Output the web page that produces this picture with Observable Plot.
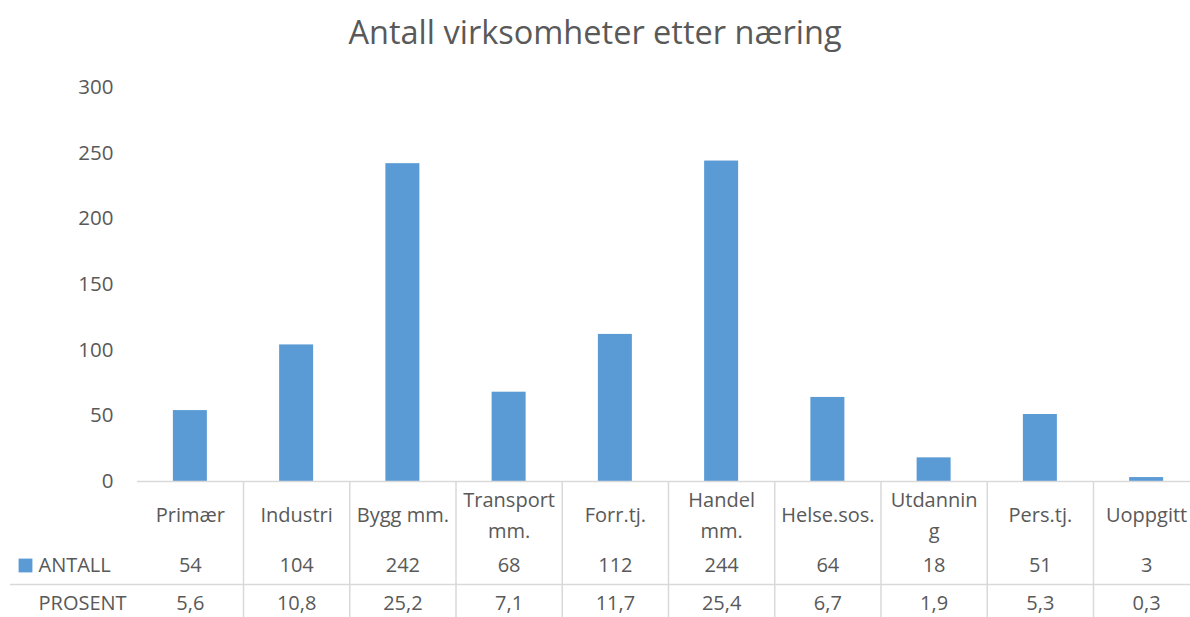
<!DOCTYPE html>
<html>
<head>
<meta charset="utf-8">
<script src="https://cdn.jsdelivr.net/npm/d3@7"></script>
<script src="https://cdn.jsdelivr.net/npm/@observablehq/plot@0.6"></script>
<style>
  html, body { margin: 0; padding: 0; background: #fff; }
  #title { height: 60px; width: 1190px; text-align: center; font-family: "Open Sans", sans-serif; font-size: 32.5px; color: #595959; line-height: 60px; box-sizing: border-box; padding-top: 2px; }
  #chart svg { display: block; }
</style>
</head>
<body>
<div id="title">Antall virksomheter etter næring</div>
<div id="chart"></div>
<script>
const categories = ["Primær","Industri","Bygg mm.","Transport mm.","Forr.tj.","Handel mm.","Helse.sos.","Utdanning","Pers.tj.","Uoppgitt"];
const categoryLabels = ["Primær","Industri","Bygg mm.","Transport\nmm.","Forr.tj.","Handel\nmm.","Helse.sos.","Utdannin\ng","Pers.tj.","Uoppgitt"];
const antall = [54,104,242,68,112,244,64,18,51,3];
const prosent = ["5,6","10,8","25,2","7,1","11,7","25,4","6,7","1,9","5,3","0,3"];
const yTicks = [0,50,100,150,200,250,300];

const rows = categories.map((c, i) => ({cat: c, label: categoryLabels[i], antall: antall[i], prosent: prosent[i]}));

const W = 1190, H = 557;
const x0 = 136.75, x1 = 1199.25;
const step = (x1 - x0) / categories.length;
const barColor = "#5b9bd5";
const grid = "#d9d9d9";
const textColor = "#595959";
const fs = 20;

const chart = Plot.plot({
  width: W,
  height: H,
  marginLeft: 137,
  marginRight: 0,
  marginTop: 27,
  marginBottom: 0,
  style: {fontFamily: "'Open Sans', sans-serif", fontSize: fs + "px", color: textColor, background: "#fff"},
  x: {domain: categories, range: [x0, x1], padding: 0, round: false, axis: null},
  y: {domain: [0, 300], range: [421, 27], ticks: yTicks},
  marks: [
    Plot.axisY({ticks: yTicks, tickSize: 0, tickPadding: 24, fontSize: 20.5, fill: textColor, label: null}),
    Plot.barY(rows, {x: "cat", y: "antall", fill: barColor, insetLeft: (step - 34) / 2, insetRight: (step - 34) / 2}),
    // table grid
    Plot.ruleY([0], {stroke: grid, strokeWidth: 1.5}),
    Plot.ruleY([0], {stroke: grid, strokeWidth: 1.5, dy: 103, insetLeft: -127}),
    Plot.ruleX(categories.slice(1), {x: d => d, dx: -step / 2, stroke: grid, strokeWidth: 1.5, insetTop: 394}),
    // category labels
    Plot.text(rows, {x: "cat", y: 0, text: "label", dy: 31, lineAnchor: "middle", lineHeight: 1.56, fill: textColor, fontSize: fs}),
    // ANTALL row
    Plot.text(rows, {x: "cat", y: 0, text: "antall", dy: 84, fill: textColor, fontSize: fs}),
    // PROSENT row
    Plot.text(rows, {x: "cat", y: 0, text: "prosent", dy: 122, fill: textColor, fontSize: fs}),
    // row headers
    Plot.dot([0], {y: 0, frameAnchor: "left", dx: -112, dy: 84, symbol: "square", r: 7.8, fill: barColor, stroke: null}),
    Plot.text(["ANTALL"], {y: 0, text: d => d, frameAnchor: "left", textAnchor: "start", dx: -99, dy: 84, fill: textColor, fontSize: fs}),
    Plot.text(["PROSENT"], {y: 0, text: d => d, frameAnchor: "left", textAnchor: "start", dx: -99, dy: 122, fill: textColor, fontSize: fs})
  ]
});
document.getElementById("chart").appendChild(chart);
</script>
</body>
</html>
